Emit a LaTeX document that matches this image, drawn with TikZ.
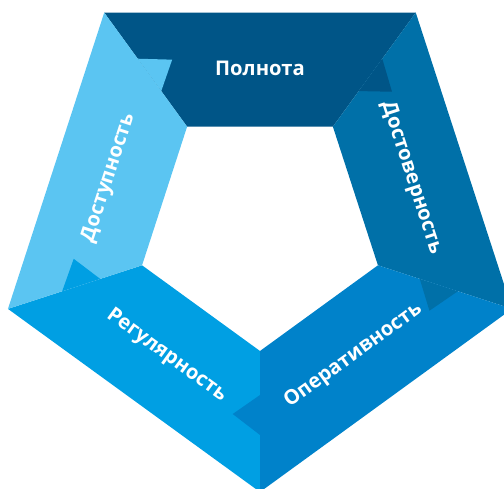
\documentclass[tikz,border=0pt]{standalone}
\usepackage{fontspec}
\setmainfont{Open Sans}
\usetikzlibrary{positioning}
\definecolor{polnota}{RGB}{0,85,135}
\definecolor{dostover}{RGB}{0,112,168}
\definecolor{operativ}{RGB}{0,130,202}
\definecolor{regular}{RGB}{0,159,227}
\definecolor{dostup}{RGB}{91,197,242}

\begin{document}
\begin{tikzpicture}[x=0.02cm, y=0.02cm,
      segtext/.style={text=white, inner sep=0pt, font=\bfseries\fontsize{11.5}{14}\selectfont}
    ]
    \useasboundingbox (-260,-262) rectangle (244,227);
    % ring segments
    \foreach \a/\col in {126/polnota, 54/dostover, -18/operativ, -90/regular, -162/dostup}
      \fill [\col] (\a:124) -- (\a:265) -- (\a-72:265) -- (\a-72:124) -- cycle;
    % folded tabs
    \foreach \a/\col in {126/polnota, 54/dostover, -18/operativ, -90/regular, -162/dostup}
      \fill [\col] (\a-72:168) -- (\a-80.3:189) -- (\a-72:208) -- cycle;

    \node [segtext] (polnota) at (90:159) {Полнота} ;
    \node [segtext, rotate=-72] (dostover) at (18:159) {Достоверность} ;
    \node [segtext, rotate=36] (operativ) at (-54:159) {Оперативность} ;
    \node [segtext, rotate=-36] (regular) at (234:159) {Регулярность} ;
    \node [segtext, rotate=72] (dostup) at (162:159) {Доступность} ;
  \end{tikzpicture}
\end{document}
